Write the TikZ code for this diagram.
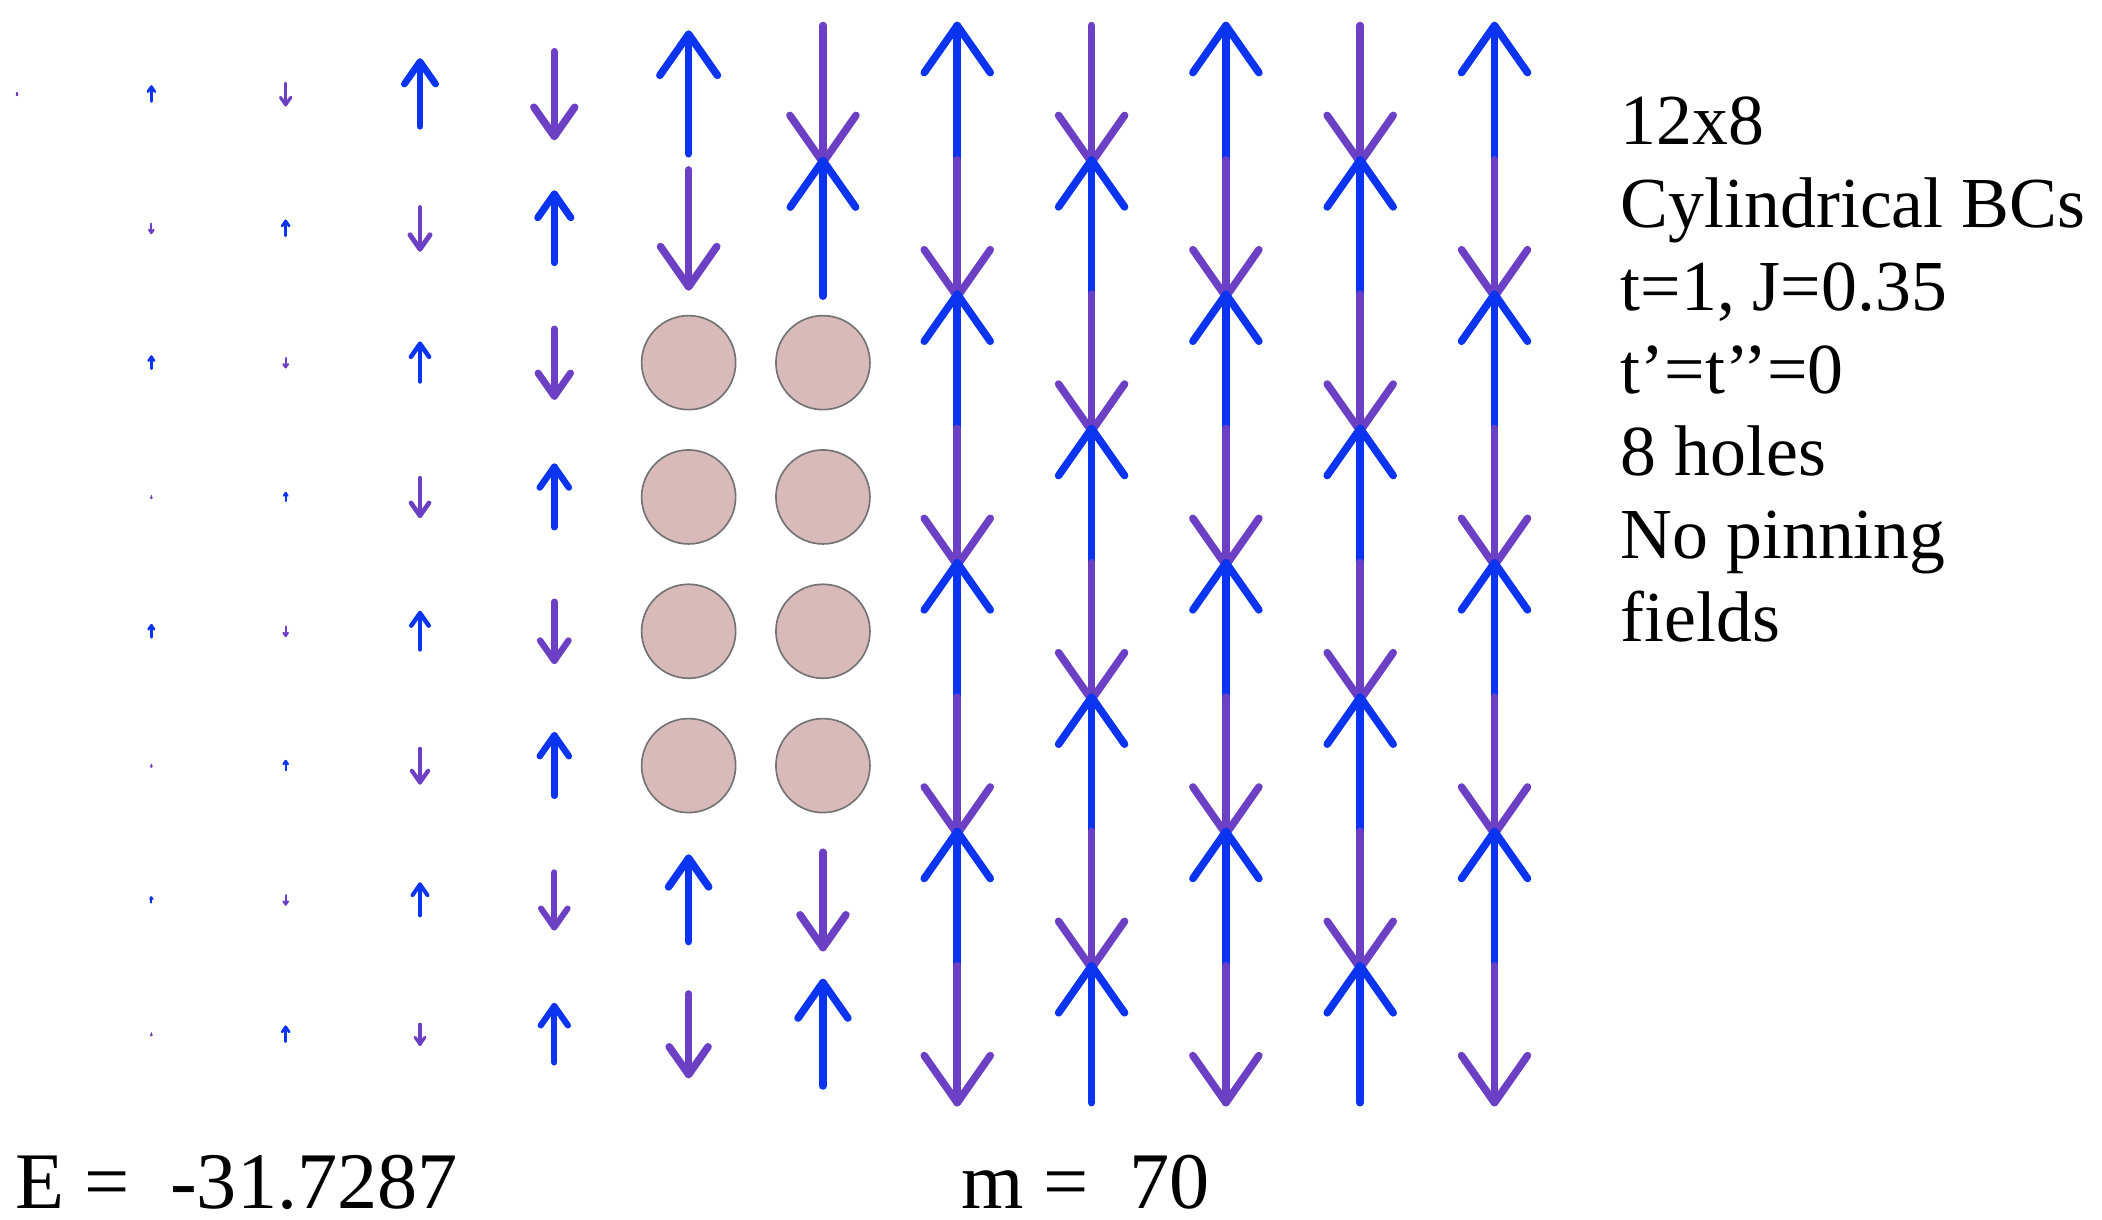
\documentclass[tikz,border=0pt]{standalone}
\usepackage{fontspec}
\setmainfont{Liberation Serif}
\usepackage{xcolor}

\definecolor{spinup}{RGB}{10,52,240}
\definecolor{spindown}{RGB}{108,64,196}
\definecolor{holefill}{RGB}{217,186,186}

\begin{document}
\begin{tikzpicture}[line cap=round, line join=round,
  hole/.style={circle, draw=black!55, fill=holefill, line width=0.35pt, minimum size=0.70cm, inner sep=0pt},
  info/.style={anchor=base west, inner sep=0pt, font=\fontsize{15.2}{18}\selectfont},
  readout/.style={anchor=base west, inner sep=0pt, font=\fontsize{17}{20}\selectfont}]

\useasboundingbox (0,0) rectangle (15.65,-9.077);

% spin lengths per column (lattice units), 0 = empty site
\foreach \col/\lens in {0/{.02,0,0,0,0,0,0,0},
                        1/{.11,.07,.09,.02,.09,.02,.04,.02},
                        2/{.16,.11,.07,.06,.07,.07,.07,.11},
                        3/{.48,.31,.28,.28,.27,.25,.23,.15},
                        4/{.63,.51,.50,.45,.44,.45,.41,.42},
                        5/{.89,.87,0,0,0,0,.62,.60},
                        6/{1.02,1.01,0,0,0,0,.71,.77},
                        7/{1.02,1.02,1.02,1.02,1.02,1.02,1.02,1.02},
                        8/{1.02,1.02,1.02,1.02,1.02,1.02,1.02,1.02},
                        9/{1.02,1.02,1.02,1.02,1.02,1.02,1.02,1.02},
                        10/{1.02,1.02,1.02,1.02,1.02,1.02,1.02,1.02},
                        11/{1.02,1.02,1.02,1.02,1.02,1.02,1.02,1.02}}{
  \foreach \len [count=\row from 0] in \lens {
    \ifdim \len pt>0pt
      \pgfmathtruncatemacro{\dir}{ifthenelse(mod(\col+\row,2)==1,1,-1)}
      \ifnum\dir=1 \def\spcol{spinup}\else\def\spcol{spindown}\fi
      \pgfmathsetmacro{\x}{0.127+\col}
      \pgfmathsetmacro{\ytail}{-0.70-\row-\dir*\len/2}
      \pgfmathsetmacro{\ytip}{-0.70-\row+\dir*\len/2}
      \pgfmathsetmacro{\yarm}{\ytip-\dir*0.344*\len}
      \pgfmathsetmacro{\dx}{0.241*\len}
      \pgfmathsetmacro{\lw}{min(1.6,0.3+2.4*\len)}
      \draw[\spcol, line width=\lw pt] (\x,\ytail) -- (\x,\ytip);
      \draw[\spcol, line width=\lw pt] (\x-\dx,\yarm) -- (\x,\ytip) -- (\x+\dx,\yarm);
    \fi
  }
}

% holes
\foreach \col in {5,6}
  \foreach \row in {2,...,5}
    \node[hole] (hole-\col-\row) at (0.127+\col,-0.70-\row) {};

% parameters
\foreach \txt [count=\k from 0] in {12x8, Cylindrical BCs, {t=1, J=0.35}, t’=t’’=0, 8 holes, No pinning, fields}
  \node[info] (info\k) at (12.06,-1.078-0.616*\k) {\txt};

\node[readout] (energy) at (0.11,-9.00) {E = \ -31.7287};
\node[readout] (moment) at (7.15,-9.00) {m = \ 70};
\end{tikzpicture}
\end{document}
